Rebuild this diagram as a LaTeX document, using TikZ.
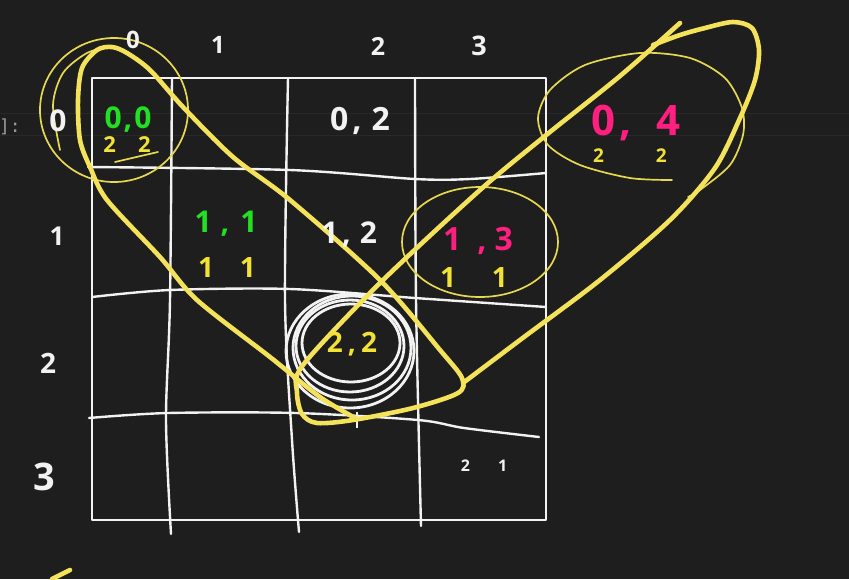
\documentclass[tikz,border=0pt]{standalone}
\usepackage{fontspec}
\setmainfont{Open Sans}
\newfontfamily\uifont{DejaVu Sans Mono}
\definecolor{bg}{HTML}{1E1E1E}
\definecolor{faint}{HTML}{282828}
\definecolor{chalk}{HTML}{F2F2F2}
\definecolor{hlY}{HTML}{F4E35A}
\definecolor{ringY}{HTML}{E6D850}
\definecolor{txtY}{HTML}{F2E234}
\definecolor{penGreen}{HTML}{22E022}
\definecolor{penPink}{HTML}{FF1F80}
\definecolor{uigray}{HTML}{9A9A9A}
\begin{document}
\begin{tikzpicture}[x=1pt,y=-1pt,
  gridline/.style={draw=chalk,line width=2.4pt,line cap=round,line join=round},
  band/.style={draw=hlY,line width=4.6pt,line cap=round,line join=round},
  ringline/.style={draw=ringY,line width=1.7pt,line cap=round},
  loopw/.style={draw=chalk,line width=2.8pt},
  lbl/.style={inner sep=0pt,anchor=base,text=chalk},
  fs/.style={font=\bfseries\fontsize{#1}{#1}\selectfont},
]
\fill[bg] (0,0) rectangle (849,579);
\useasboundingbox (0,0) rectangle (849,579);
% notebook ui
\draw[faint,line width=1pt] (0,113) -- (849,113);
\draw[faint,line width=1pt] (0,135) -- (849,135);
\node[lbl,text=uigray,font=\uifont\fontsize{18}{18}\selectfont] (ui) at (10,132) {]:};

% grid
\draw[gridline] (92,78) rectangle (546,520);
\draw[gridline] plot[smooth] coordinates {(172,78) (170,300) (166,420) (171,534)};
\draw[gridline] plot[smooth] coordinates {(288,78) (285,300) (292,440) (299,532)};
\draw[gridline] plot[smooth] coordinates {(415,78) (416,300) (421,526)};
\draw[gridline] plot[smooth] coordinates {(88,167) (290,170) (415,179) (470,179) (546,173)};
\draw[gridline] plot[smooth] coordinates {(92,297) (170,290) (290,289) (415,298) (546,307)};
\draw[gridline] plot[smooth] coordinates {(89,418) (168,413) (296,413) (418,420) (464,428) (539,437)};

% white scribbled circles round 2,2
\draw[loopw] (350,351) ellipse [x radius=64, y radius=57];
\draw[loopw] (352,348) ellipse [x radius=59, y radius=52];
\draw[loopw] (350,346) ellipse [x radius=54, y radius=46];
\draw[loopw] (351,343) ellipse [x radius=49, y radius=39];
\draw[loopw] (357,412) -- (357,428);

% thin yellow rings
\draw[ringline] (114,110) ellipse [x radius=74, y radius=72];
\draw[ringline] plot[smooth] coordinates {(60,150) (53,105) (63,73) (87,53) (112,46)};
\draw[ringline] (480,242) ellipse [x radius=78, y radius=55];
\draw[ringline] plot[smooth] coordinates {(672,180) (630,178) (580,165) (548,145) (538,118) (550,90) (585,65) (640,53) (690,58) (725,78) (742,108) (743,135) (730,165) (700,190) (688,197)};
\draw[ringline] (115,162) -- (158,152);

% thick yellow bands
\draw[band] plot[smooth] coordinates {(357,419) (320,397) (270,357) (197,300) (160,257) (107,200) (90,167) (80,140) (78,100) (82,68) (97,50) (112,47) (127,53) (150,70) (183,107) (233,157) (290,200) (380,280) (440,350) (462,378) (458,393) (413,408) (353,420) (317,423) (302,414) (297,392) (303,365) (380,283) (480,190) (545,136) (620,76) (680,23)};
\draw[band] plot[smooth] coordinates {(653,45) (680,35) (705,28) (733,22) (752,28) (759,50) (755,80) (740,118) (715,168) (670,220) (600,280) (520,340) (463,383)};
\draw[band] (52,579) -- (70,570);

% headers
\node[lbl,fs=24] (c0) at (133,48) {0};
\node[lbl,fs=24] (c1) at (218,53) {1};
\node[lbl,fs=25] (c2) at (378,55) {2};
\node[lbl,fs=27] (c3) at (479,55) {3};
\node[lbl,fs=30] (r0) at (58,131) {0};
\node[lbl,fs=26] (r1) at (57,245) {1};
\node[lbl,fs=28] (r2) at (48,373) {2};
\node[lbl,fs=38] (r3) at (44,490) {3};

% cell texts
\node[lbl,fs=30,text=penGreen] (t00) at (128,128) {0\hspace{2pt},\hspace{2pt}0};
\node[lbl,fs=22,text=txtY] (n00) at (127,152) {2\hspace{22pt}2};
\node[lbl,fs=32] (t02) at (360,130) {0\hspace{4pt},\hspace{10pt}2};
\node[lbl,fs=30,text=penGreen] (t11) at (226,232) {1\hspace{9pt},\hspace{11pt}1};
\node[lbl,fs=28,text=txtY] (n11) at (227,277) {1\hspace{26pt}1};
\node[lbl,fs=30] (t12) at (349,243) {1\hspace{4pt},\hspace{9pt}2};
\node[lbl,fs=32,text=penPink] (t13) at (478,250) {1\hspace{16pt},\hspace{8pt}3};
\node[lbl,fs=28,text=txtY] (n13) at (474,287) {1\hspace{36pt}1};
\node[lbl,fs=28,text=txtY] (t22) at (352,352) {2\hspace{5pt},\hspace{5pt}2};
\node[lbl,fs=42,text=penPink] (t04) at (636,135) {0\hspace{4pt},\hspace{24pt}4};
\node[lbl,fs=19,text=txtY] (n04) at (630,162) {2\hspace{52pt}2};
\node[lbl,fs=16] (n33) at (484,471) {2\hspace{28pt}1};
\end{tikzpicture}
\end{document}
